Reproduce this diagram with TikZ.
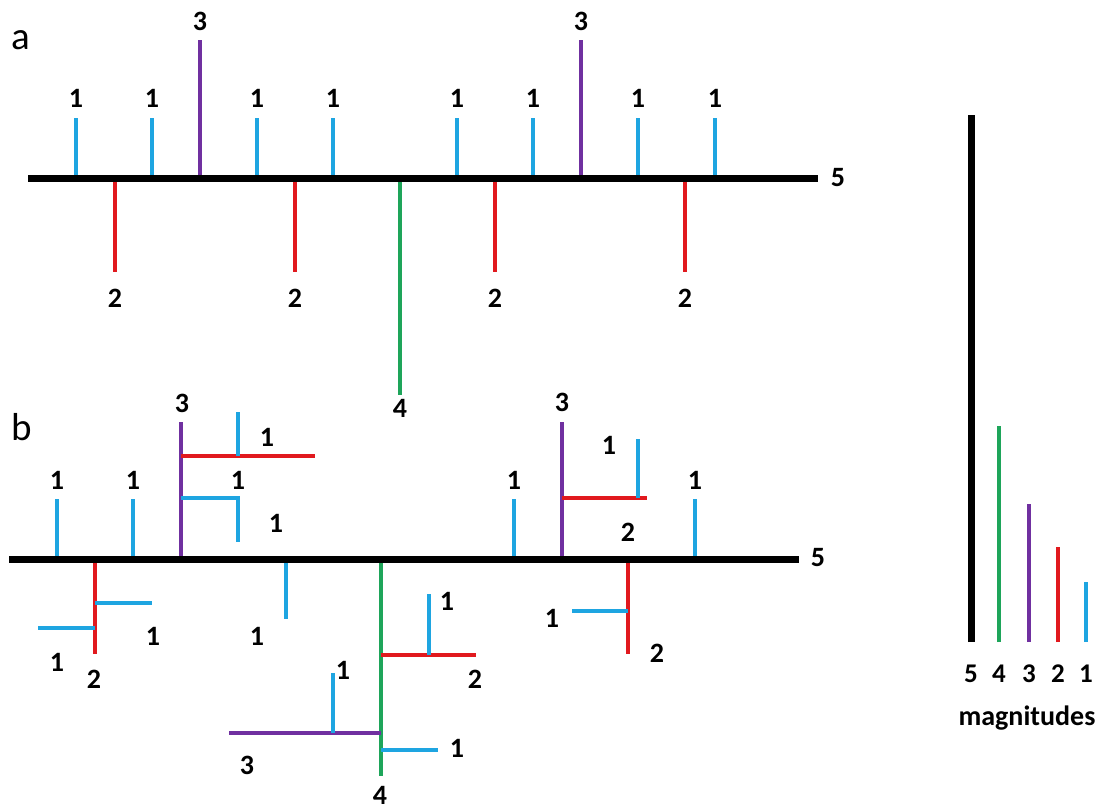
\documentclass[tikz,border=0pt]{standalone}
\usepackage{fontspec}
\setmainfont{Carlito}
\definecolor{magone}{RGB}{30,165,225}
\definecolor{magtwo}{RGB}{225,25,30}
\definecolor{magthree}{RGB}{112,48,160}
\definecolor{magfour}{RGB}{30,165,90}
\tikzset{
  m1/.style={draw=magone,line width=3.5pt},
  m2/.style={draw=magtwo,line width=3.5pt},
  m3/.style={draw=magthree,line width=3.5pt},
  m4/.style={draw=magfour,line width=3.5pt},
  m5/.style={draw=black,line width=7pt},
  num/.style={font=\fontsize{28}{32}\selectfont\bfseries,inner sep=0pt},
  key/.style={font=\fontsize{27}{30}\selectfont\bfseries,inner sep=0pt},
  panel/.style={font=\fontsize{39}{42}\selectfont,inner sep=0pt}
}

\begin{document}
\begin{tikzpicture}[x=1pt,y=-1pt]
  \useasboundingbox (0,0) rectangle (1107,809);
  % panel a
  \node[panel] (pa) at (21,40) {a};
  \coordinate (A0) at (28,178); \coordinate (A5) at (818,178);
  % magnitude 1
  \coordinate (A11) at (76,178); \coordinate (E11) at (76,118); \draw[m1] (A11) -- (E11); \node[num] (a11) at (76,98) {1};
  \coordinate (A12) at (152,178); \coordinate (E12) at (152,118); \draw[m1] (A12) -- (E12); \node[num] (a12) at (152,98) {1};
  \coordinate (A13) at (257,178); \coordinate (E13) at (257,118); \draw[m1] (A13) -- (E13); \node[num] (a13) at (257,98) {1};
  \coordinate (A14) at (333,178); \coordinate (E14) at (333,118); \draw[m1] (A14) -- (E14); \node[num] (a14) at (333,98) {1};
  \coordinate (A15) at (457,178); \coordinate (E15) at (457,118); \draw[m1] (A15) -- (E15); \node[num] (a15) at (457,98) {1};
  \coordinate (A16) at (533,178); \coordinate (E16) at (533,118); \draw[m1] (A16) -- (E16); \node[num] (a16) at (533,98) {1};
  \coordinate (A17) at (638,178); \coordinate (E17) at (638,118); \draw[m1] (A17) -- (E17); \node[num] (a17) at (638,98) {1};
  \coordinate (A18) at (715,178); \coordinate (E18) at (715,118); \draw[m1] (A18) -- (E18); \node[num] (a18) at (715,98) {1};
  % magnitude 2
  \coordinate (A21) at (115,178); \coordinate (E21) at (115,272); \draw[m2] (A21) -- (E21); \node[num] (a21) at (115,298) {2};
  \coordinate (A22) at (295,178); \coordinate (E22) at (295,272); \draw[m2] (A22) -- (E22); \node[num] (a22) at (295,298) {2};
  \coordinate (A23) at (495,178); \coordinate (E23) at (495,272); \draw[m2] (A23) -- (E23); \node[num] (a23) at (495,298) {2};
  \coordinate (A24) at (685,178); \coordinate (E24) at (685,272); \draw[m2] (A24) -- (E24); \node[num] (a24) at (685,298) {2};
  % magnitude 3 and 4
  \coordinate (A31) at (200,178); \coordinate (E31) at (200,40); \draw[m3] (A31) -- (E31); \node[num] (a31) at (200,21) {3};
  \coordinate (A32) at (581,178); \coordinate (E32) at (581,40); \draw[m3] (A32) -- (E32); \node[num] (a32) at (581,21) {3};
  \coordinate (A41) at (400,178); \coordinate (E41) at (400,395); \draw[m4] (A41) -- (E41); \node[num] (a41) at (400,408) {4};
  % main stream
  \draw[m5] (A0) -- (A5); \node[num] (a5) at (838,178) {5};

  % panel b
  \node[panel] (pb) at (22,427) {b};
  \coordinate (B0) at (9,559); \coordinate (B5) at (799,559);
  % direct magnitude 1
  \coordinate (B11) at (57,559); \coordinate (F11) at (57,499); \draw[m1] (B11) -- (F11); \node[num] (b11) at (57,480) {1};
  \coordinate (B12) at (133,559); \coordinate (F12) at (133,499); \draw[m1] (B12) -- (F12); \node[num] (b12) at (133,480) {1};
  \coordinate (B13) at (514,559); \coordinate (F13) at (514,499); \draw[m1] (B13) -- (F13); \node[num] (b13) at (514,480) {1};
  \coordinate (B14) at (695,559); \coordinate (F14) at (695,499); \draw[m1] (B14) -- (F14); \node[num] (b14) at (695,480) {1};
  \coordinate (B15) at (286,559); \coordinate (F15) at (286,619); \draw[m1] (B15) -- (F15); \node[num] (b15) at (257,636) {1};
  % left magnitude 3 with its tributaries
  \coordinate (B31) at (181,559); \coordinate (F31) at (181,422); \draw[m3] (B31) -- (F31); \node[num] (b31) at (182,403) {3};
  \coordinate (P) at (181,456); \coordinate (Pr) at (315,456); \draw[m2] (P) -- (Pr);
  \coordinate (Pj) at (238,456); \coordinate (Pu) at (238,412); \draw[m1] (Pj) -- (Pu); \node[num] (p1) at (267,437) {1};
  \coordinate (Q) at (181,498); \coordinate (Qk) at (238,498); \coordinate (Qd) at (238,542);
  \draw[m1] (Q) -- (Qk) -- (Qd); \node[num] (q1) at (238,480) {1}; \node[num] (q2) at (276,523) {1};
  % right magnitude 3 with its tributaries
  \coordinate (B32) at (562,559); \coordinate (F32) at (562,422); \draw[m3] (B32) -- (F32); \node[num] (b32) at (562,402) {3};
  \coordinate (R) at (562,498); \coordinate (Rr) at (647,498); \draw[m2] (R) -- (Rr); \node[num] (r2) at (628,532) {2};
  \coordinate (Rj) at (638,498); \coordinate (Ru) at (638,439); \draw[m1] (Rj) -- (Ru); \node[num] (r1) at (609,445) {1};
  % left magnitude 2
  \coordinate (B21) at (95,559); \coordinate (F21) at (95,654); \draw[m2] (B21) -- (F21); \node[num] (b21) at (94,679) {2};
  \coordinate (S) at (95,603); \coordinate (Sr) at (152,603); \draw[m1] (S) -- (Sr); \node[num] (s1) at (153,636) {1};
  \coordinate (T) at (95,628); \coordinate (Tl) at (38,628); \draw[m1] (T) -- (Tl); \node[num] (t1) at (57,662) {1};
  % right magnitude 2
  \coordinate (B22) at (628,559); \coordinate (F22) at (628,654); \draw[m2] (B22) -- (F22); \node[num] (b22) at (657,653) {2};
  \coordinate (U) at (628,611); \coordinate (Ul) at (572,611); \draw[m1] (U) -- (Ul); \node[num] (u1) at (552,618) {1};
  % magnitude 4 with its tributaries
  \coordinate (B41) at (381,559); \coordinate (F41) at (381,776); \draw[m4] (B41) -- (F41); \node[num] (b41) at (380,795) {4};
  \coordinate (V) at (381,655); \coordinate (Vr) at (476,655); \draw[m2] (V) -- (Vr); \node[num] (v2) at (475,679) {2};
  \coordinate (Vj) at (429,655); \coordinate (Vu) at (429,594); \draw[m1] (Vj) -- (Vu); \node[num] (v1) at (447,601) {1};
  \coordinate (W) at (381,733); \coordinate (Wl) at (229,733); \draw[m3] (W) -- (Wl); \node[num] (w3) at (247,765) {3};
  \coordinate (Wj) at (333,733); \coordinate (Wu) at (333,673); \draw[m1] (Wj) -- (Wu); \node[num] (w1) at (343,670) {1};
  \coordinate (X) at (381,750); \coordinate (Xr) at (438,750); \draw[m1] (X) -- (Xr); \node[num] (x1) at (457,748) {1};
  % main stream
  \draw[m5] (B0) -- (B5); \node[num] (b5) at (818,558) {5};

  % legend
  \coordinate (L5) at (971,642); \coordinate (K5) at (971,115); \draw[m5] (L5) -- (K5);
  \coordinate (L4) at (999,642); \coordinate (K4) at (999,426); \draw[m4] (L4) -- (K4);
  \coordinate (L3) at (1029,642); \coordinate (K3) at (1029,504); \draw[m3] (L3) -- (K3);
  \coordinate (L2) at (1058,642); \coordinate (K2) at (1058,547); \draw[m2] (L2) -- (K2);
  \coordinate (L1) at (1086,642); \coordinate (K1) at (1086,582); \draw[m1] (L1) -- (K1);
  \node[key] (l5) at (971,674) {5};
  \node[key] (l4) at (999,674) {4};
  \node[key] (l3) at (1029,674) {3};
  \node[key] (l2) at (1058,674) {2};
  \node[key] (l1) at (1086,674) {1};
  \node[key,font=\fontsize{28}{32}\selectfont\bfseries] (mag) at (1027,718) {magnitudes};
\end{tikzpicture}
\end{document}
